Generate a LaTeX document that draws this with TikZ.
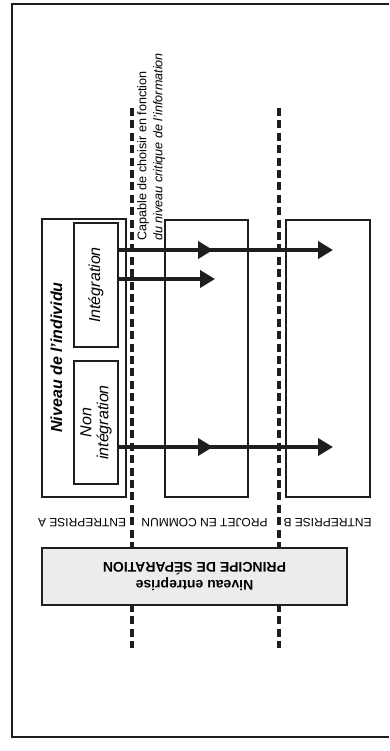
\documentclass[tikz,border=0pt]{standalone}
\usepackage{fontspec}
\setmainfont{Liberation Sans}
\usetikzlibrary{arrows.meta}
\definecolor{ink}{HTML}{1E1E1E}
\definecolor{sepfill}{HTML}{ECECEC}
\begin{document}
\begin{tikzpicture}[x=1pt,y=-1pt,
  box/.style={draw=ink, line width=1.1pt, inner sep=0pt},
  divider/.style={draw=ink, line width=3.6pt, dash pattern=on 8pt off 4.4pt},
  flow/.style={draw=ink, line width=4pt, -{Triangle[length=15pt,width=17pt]}},
  lab/.style={font=\fontsize{12}{14}\selectfont, inner sep=0pt, rotate=180},
]
\useasboundingbox (0,0) rectangle (389,751);
\fill[white] (0,0) rectangle (389,751);
% frame
\draw[ink, line width=2.2pt] (389,4) -- (12,4) -- (12,737) -- (389,737);
% company boxes
\node[box, minimum width=84pt, minimum height=278pt] (boxA) at (84,358) {};
\node[box, minimum width=83pt, minimum height=277pt] (boxP) at (206.5,358.5) {};
\node[box, minimum width=84pt, minimum height=277pt] (boxB) at (328,358.5) {};
% inner boxes
\node[box, rotate=90, minimum width=124pt, minimum height=44pt,
      font=\fontsize{16}{18}\selectfont\itshape] (intg) at (96,285) {Intégration};
\node[box, rotate=90, minimum width=123pt, minimum height=44pt, align=center,
      font=\fontsize{16}{17}\selectfont\itshape] (nonint) at (96,422.5) {Non\\intégration};
\node[rotate=90, anchor=base, inner sep=0pt,
      font=\fontsize{16}{18}\selectfont\bfseries\itshape] (niv) at (62,357.5) {Niveau de l'individu};
% dividers
\coordinate (d1t) at (132,108); \coordinate (d1b) at (132,648);
\coordinate (d2t) at (279,108); \coordinate (d2b) at (279,648);
\draw[divider] (d1t) -- (d1b);
\draw[divider] (d2t) -- (d2b);
% note
\node[rotate=90, anchor=north west, inner sep=0pt, align=left,
      font=\fontsize{12.6}{16}\selectfont] (cap) at (137,241)
      {Capable de choisir en fonction\\\textit{du niveau critique de l'information}};
% arrows
\coordinate (a1m) at (213,250); \coordinate (a1e) at (333,250);
\coordinate (a2e) at (215,279);
\coordinate (a3m) at (213,447); \coordinate (a3e) at (333,447);
\draw[flow] (intg.south |- a1e) -- (a1e);
\draw[flow] (intg.south |- a1m) -- (a1m);
\draw[flow] (intg.south |- a2e) -- (a2e);
\draw[flow] (nonint.south |- a3e) -- (a3e);
\draw[flow] (nonint.south |- a3m) -- (a3m);
% labels
\node[lab] (labA) at (82,523) {ENTREPRISE A};
\node[lab] (labP) at (204.5,523) {PROJET EN COMMUN};
\node[lab] (labB) at (327.5,523) {ENTREPRISE B};
% separation box
\node[draw=ink, line width=1.3pt, fill=sepfill, minimum width=305pt, minimum height=57pt,
      inner sep=0pt, rotate=180, align=center,
      font=\fontsize{14}{18}\selectfont\bfseries] (sep) at (194.5,576.5)
      {Niveau entreprise\\PRINCIPE DE SÉPARATION};
\end{tikzpicture}
\end{document}
